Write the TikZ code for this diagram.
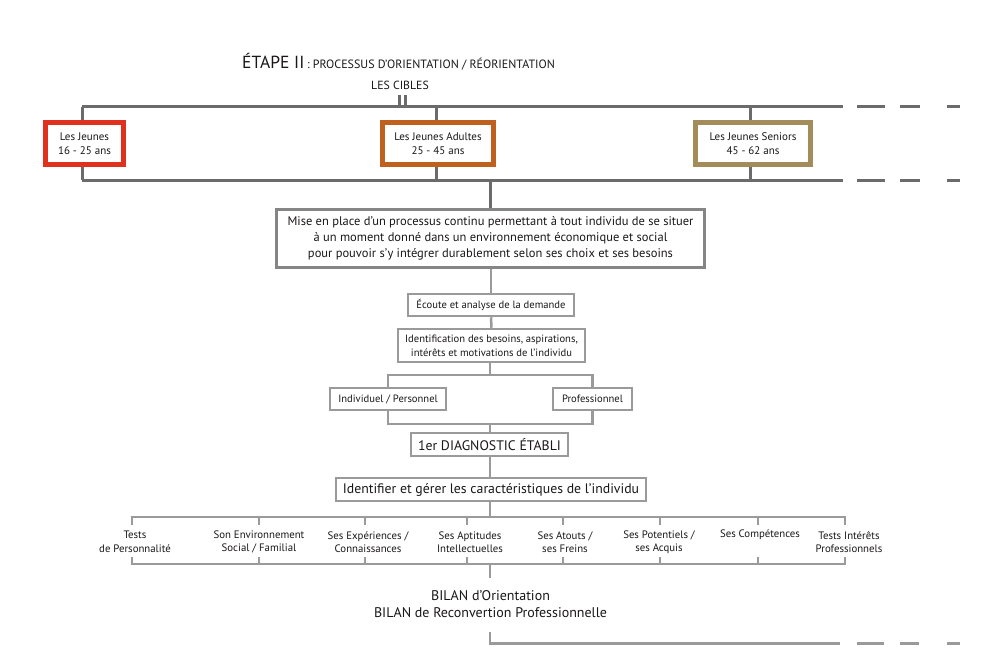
\documentclass[tikz,border=0pt]{standalone}
\usepackage{fontspec}
\setmainfont{PT Sans}
\definecolor{txt}{HTML}{1A1718}
\definecolor{darkline}{HTML}{6B6B6B}
\definecolor{lightline}{HTML}{9A9A9A}
\definecolor{mainline}{HTML}{858585}
\definecolor{cred}{HTML}{E0301E}
\definecolor{corange}{HTML}{C0601E}
\definecolor{ckhaki}{HTML}{A38B5A}
\tikzset{
  cible/.style={draw, line width=5pt, fill=white, text=txt, font=\fontsize{11}{14}\selectfont, align=center, minimum height=42pt, inner sep=0pt},
  smallbox/.style={draw=lightline, line width=2.5pt, text=txt, font=\fontsize{10.6}{14}\selectfont, align=center, inner sep=0pt},
  bigbox/.style={draw=lightline, line width=2.5pt, text=txt, font=\fontsize{13.8}{15}\selectfont, align=center, inner sep=0pt},
  item/.style={text=txt, font=\fontsize{10.8}{13.5}\selectfont, align=center, inner sep=0pt},
  dk/.style={draw=darkline, line width=3pt},
  lt/.style={draw=lightline, line width=2.5pt},
}
\begin{document}
\begin{tikzpicture}[x=1pt,y=-1pt]
\useasboundingbox (0,0) rectangle (996,658);
% title
\node[anchor=base west, inner sep=0pt, text=txt] (title) at (242,69)
  {{\fontsize{17.5}{18}\selectfont ÉTAPE II} {\fontsize{12}{13}\selectfont : PROCESSUS D'ORIENTATION / RÉORIENTATION}};
\node[anchor=base, inner sep=0pt, text=txt, font=\fontsize{11.8}{13}\selectfont] (cibles) at (400,90) {LES CIBLES};
% top line
\coordinate (tl) at (82,107);
\coordinate (tr) at (843,107);
\coordinate (bl) at (82,180);
\coordinate (br) at (843,180);
\draw[dk] (tl) -- (tr);
\draw[dk] (bl) -- (br);
\foreach \y in {107,180}{
  \draw[dk] (857,\y) -- (885,\y);
  \draw[dk] (900,\y) -- (920,\y);
  \draw[dk] (947,\y) -- (960,\y);
}
\coordinate (t1) at (399.5,95);
\coordinate (t2) at (405.5,95);
\draw[dk] (t1) -- (399.5,107);
\draw[line width=2.5pt, draw=darkline] (t2) -- (405.5,107);
% cibles boxes
\node[cible, draw=cred, minimum width=78pt] (jeunes) at (84.5,143.5) {Les Jeunes\\16 - 25 ans};
\node[cible, draw=corange, minimum width=111pt] (adultes) at (438,143.5) {Les Jeunes Adultes\\25 - 45 ans};
\node[cible, draw=ckhaki, minimum width=115pt] (seniors) at (753,143.5) {Les Jeunes Seniors\\45 - 62 ans};
\draw[dk] (jeunes.north -| tl) -- (tl);
\draw[dk] (jeunes.south -| bl) -- (bl);
\draw[dk] ([xshift=-2pt]adultes.north) -- ++(0,-13);
\draw[dk] ([xshift=-2pt]adultes.south) -- ++(0,13);
\draw[dk] ([xshift=-3pt]seniors.north) -- ++(0,-13);
\draw[dk] ([xshift=-3pt]seniors.south) -- ++(0,13);
% main box
\node[draw=mainline, line width=3pt, text=txt, font=\fontsize{12.5}{16}\selectfont, align=center, minimum width=428pt, minimum height=58pt, inner sep=0pt] (main) at (490.5,238.5)
  {Mise en place d'un processus continu permettant à tout individu de se situer\\à un moment donné dans un environnement économique et social\\pour pouvoir s'y intégrer durablement selon ses choix et ses besoins};
\draw[dk] (490.5,180) -- (main.north);
% chain
\node[smallbox, minimum width=166pt, minimum height=22pt] (ecoute) at (491,305) {Écoute et analyse de la demande};
\node[smallbox, minimum width=187pt, minimum height=33pt] (ident) at (491.5,345.5) {Identification des besoins, aspirations,\\intérêts et motivations de l'individu};
\node[smallbox, minimum width=116pt, minimum height=22pt] (indiv) at (388,399) {Individuel / Personnel};
\node[smallbox, minimum width=79pt, minimum height=22pt] (prof) at (592.5,399) {Professionnel};
\node[bigbox, minimum width=157pt, minimum height=23pt] (diag) at (489.5,444.5) {1er DIAGNOSTIC ÉTABLI};
\node[bigbox, minimum width=310pt, minimum height=23pt] (identifier) at (491,489.5) {Identifier et gérer les caractéristiques de l'individu};
\draw[lt] (main.south -| ecoute) -- (ecoute.north);
\draw[lt] (ecoute.south) -- (ident.north);
\draw[lt] (ident.south -| 490,0) -- (490,375);
\draw[lt] (indiv.north) |- (prof.north |- 0,375) -- (prof.north);
\draw[lt] (indiv.south) |- (prof.south |- 0,424) -- (prof.south);
\draw[lt] (490,424) -- (diag.north -| 490,0);
\draw[lt] (diag.south -| 490,0) -- (identifier.north -| 490,0);
% items
\draw[lt] (identifier.south -| 490,0) -- (490,517);
\draw[lt] (132,517) -- (845,517);
\draw[lt] (132,564) -- (845,564);
\foreach \n/\x/\tx/\t in {i1/132/135/{Tests\\de Personnalité},
  i2/259/259/{Son Environnement\\Social / Familial},
  i3/365/368/{Ses Expériences /\\Connaissances},
  i4/467/470/{Ses Aptitudes\\Intellectuelles},
  i5/563/565/{Ses Atouts /\\ses Freins},
  i6/660/659/{Ses Potentiels /\\ses Acquis},
  i7/758/760/{Ses Compétences\\\strut},
  i8/845/849/{Tests Intérêts\\Professionnels}}{
  \node[item] (\n) at (\tx,542) {\t};
  \draw[lt] (\x,516) -- (\x,525);
  \draw[lt] (\x,557) -- (\x,565);
}
\node[item, font=\fontsize{14}{17}\selectfont] (bilan) at (490.5,604.5) {BILAN d'Orientation\\BILAN de Reconvertion Professionnelle};
\draw[lt] (490,564) -- (490,578);
% bottom line
\coordinate (bot) at (490,632);
\draw[lt] (bot) |- (840,643.5);
\draw[lt] (857,643.5) -- (884,643.5);
\draw[lt] (900,643.5) -- (919,643.5);
\draw[lt] (947,643.5) -- (960,643.5);
\end{tikzpicture}
\end{document}
